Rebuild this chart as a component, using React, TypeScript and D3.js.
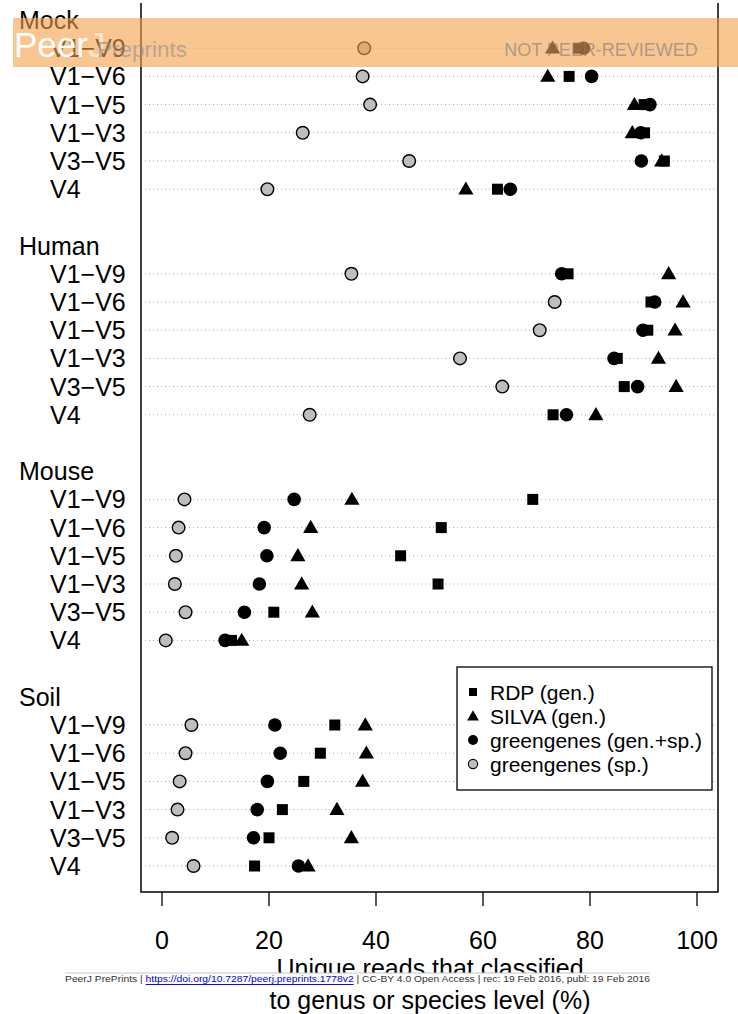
import * as d3 from 'd3';
import React from 'react';

const width = 738;
const height = 1014;

const groups = ['Mock', 'Human', 'Mouse', 'Soil'];
const regions = ['V1−V9', 'V1−V6', 'V1−V5', 'V1−V3', 'V3−V5', 'V4'];

// values per group, in region order (% of unique reads classified)
const rdpGen = [
  77.9, 76.1, 90.1, 90.2, 93.9, 62.7,
  75.9, 91.4, 90.8, 85.1, 86.4, 73.1,
  69.3, 52.2, 44.6, 51.6, 20.9, 13.0,
  32.3, 29.6, 26.5, 22.5, 20.0, 17.3,
];
const silvaGen = [
  73.0, 72.1, 88.3, 87.9, 93.4, 56.8,
  94.7, 97.4, 95.9, 92.8, 96.1, 81.1,
  35.5, 27.8, 25.4, 26.1, 28.1, 14.9,
  38.0, 38.2, 37.5, 32.7, 35.4, 27.3,
];
const ggGenSp = [
  78.8, 80.3, 91.2, 89.5, 89.6, 65.1,
  74.7, 92.1, 89.9, 84.5, 88.9, 75.6,
  24.7, 19.1, 19.6, 18.2, 15.4, 11.8,
  21.1, 22.1, 19.7, 17.8, 17.1, 25.5,
];
const ggSp = [
  37.8, 37.5, 38.9, 26.3, 46.2, 19.7,
  35.4, 73.4, 70.6, 55.7, 63.6, 27.6,
  4.2, 3.1, 2.6, 2.4, 4.4, 0.7,
  5.5, 4.4, 3.3, 2.9, 1.9, 5.9,
];
const legendLabels = ['RDP (gen.)', 'SILVA (gen.)', 'greengenes (gen.+sp.)', 'greengenes (sp.)'];

const font = '"Liberation Sans", Arial, Helvetica, sans-serif';
const plot = { left: 141, right: 718, top: 3, bottom: 892 };

const x = d3.scaleLinear().domain([0, 100]).range([162, 697]);
// slot 0 = group header, 1..6 = regions, 7 = gap
const y = d3.scaleLinear().domain([0, 30]).range([20, 866]);

const square = d3.symbol().type(d3.symbolSquare).size(121)()!;
const triangle = d3.symbol().type(d3.symbolTriangle).size(100)()!;
const squareSm = d3.symbol().type(d3.symbolSquare).size(64)()!;
const triangleSm = d3.symbol().type(d3.symbolTriangle).size(60)()!;

function slotOf(i: number) {
  const g = Math.floor(i / regions.length);
  return g * 8 + 1 + (i % regions.length);
}

export default function App() {
  const rows = rdpGen.map((_, i) => ({ i, cy: y(slotOf(i)) }));
  const footerY = 978;

  return (
    <svg
      width={width}
      height={height}
      style={{ position: 'absolute', left: 0, top: 0, background: '#fff' }}
      fontFamily={font}
    >
      {/* dotted guide lines */}
      {rows.map((r) => (
        <line
          key={'g' + r.i}
          x1={plot.left + 4}
          x2={plot.right - 3}
          y1={r.cy}
          y2={r.cy}
          stroke="#a8a8a8"
          strokeWidth={1}
          strokeDasharray="1 3"
        />
      ))}

      {/* labels */}
      {groups.map((g, gi) => (
        <text key={g} x={19} y={y(gi * 8)} fontSize={25} dominantBaseline="central">
          {g}
        </text>
      ))}
      {rows.map((r) => (
        <text key={'l' + r.i} x={50} y={r.cy} fontSize={25} dominantBaseline="central">
          {regions[r.i % regions.length]}
        </text>
      ))}

      {/* points */}
      {rows.map((r) => (
        <g key={'p' + r.i}>
          <circle cx={x(ggSp[r.i])} cy={r.cy} r={6.3} fill="#bebebe" stroke="#000" strokeWidth={1.4} />
          <path d={square} transform={`translate(${x(rdpGen[r.i])},${r.cy})`} fill="#000" />
          <circle cx={x(ggGenSp[r.i])} cy={r.cy} r={6.8} fill="#000" />
          <path d={triangle} transform={`translate(${x(silvaGen[r.i])},${r.cy + 1})`} fill="#000" />
        </g>
      ))}

      {/* box (top edge off the page) */}
      <path
        d={`M${plot.left},${plot.top}V${plot.bottom}H${plot.right}V${plot.top}`}
        fill="none"
        stroke="#000"
        strokeWidth={1.5}
      />

      {/* x axis */}
      {x.ticks(5).map((t) => (
        <g key={'t' + t}>
          <line x1={x(t)} x2={x(t)} y1={plot.bottom} y2={plot.bottom + 14} stroke="#000" strokeWidth={1.3} />
          <text x={x(t)} y={940} fontSize={25} textAnchor="middle" dominantBaseline="central">
            {t}
          </text>
        </g>
      ))}
      <text x={430} y={968} fontSize={25} textAnchor="middle" dominantBaseline="central">
        Unique reads that classified
      </text>
      <text x={430} y={1000} fontSize={25} textAnchor="middle" dominantBaseline="central">
        to genus or species level (%)
      </text>

      {/* legend */}
      <rect x={457} y={667} width={255} height={123} fill="#fff" stroke="#000" strokeWidth={1.3} />
      {legendLabels.map((lab, k) => {
        const ly = 692 + k * 24;
        return (
          <g key={lab}>
            {k === 0 && <path d={squareSm} transform={`translate(473,${ly})`} fill="#000" />}
            {k === 1 && <path d={triangleSm} transform={`translate(473,${ly + 1})`} fill="#000" />}
            {k === 2 && <circle cx={473} cy={ly} r={5} fill="#000" />}
            {k === 3 && <circle cx={473} cy={ly} r={4.6} fill="#bebebe" stroke="#000" strokeWidth={1.1} />}
            <text x={490} y={ly} fontSize={21} dominantBaseline="central">
              {lab}
            </text>
          </g>
        );
      })}

      {/* preprint banner */}
      <rect x={13} y={18} width={width - 13} height={49} fill="#f5a04a" opacity={0.6} />
      <text x={14} y={57} fontSize={35} fill="#fff">
        Peer<tspan fill="#fff" fillOpacity={0.55}>J</tspan>
      </text>
      <text x={97} y={57} fontSize={22.5} fill="#8c8c8c" fillOpacity={0.6}>
        Preprints
      </text>
      <text x={601} y={50} fontSize={18} textAnchor="middle" dominantBaseline="central" fill="#7a7a7a" fillOpacity={0.6}>
        NOT PEER-REVIEWED
      </text>

      {/* footer */}
      <rect x={65} y={973} width={585} height={12} fill="#fff" />
      <line x1={65} x2={650} y1={973} y2={973} stroke="#c8c8c8" strokeWidth={1} />
      <text x={65} y={footerY} fontSize={9.5} dominantBaseline="central" fill="#333" textLength={585} lengthAdjust="spacingAndGlyphs">
        {'PeerJ PrePrints | '}
        <tspan fill="#0000ee" textDecoration="underline">https://doi.org/10.7287/peerj.preprints.1778v2</tspan>
        {' | CC-BY 4.0 Open Access | rec: 19 Feb 2016, publ: 19 Feb 2016'}
      </text>
    </svg>
  );
}
